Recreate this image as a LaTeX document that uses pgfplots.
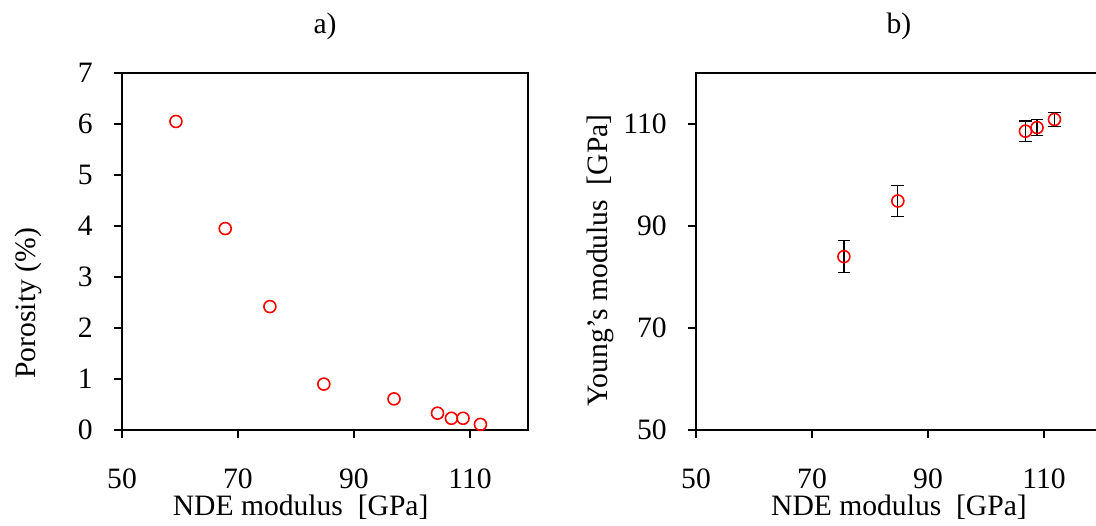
\documentclass[border=0pt]{standalone}
\usepackage{pgfplots}
\pgfplotsset{compat=1.18}
\usepackage{fontspec}
\setmainfont{Liberation Serif}

\pgfplotstableread{
x y
59.3 6.05
67.8 3.95
75.5 2.42
84.8 0.90
96.9 0.61
104.4 0.33
106.8 0.23
108.8 0.23
111.8 0.11
}\porosity

\pgfplotstableread{
x y e
75.5 84.0 3.1
84.8 94.9 3.1
106.8 108.6 2.0
108.8 109.3 1.6
111.8 110.9 1.4
}\young

\begin{document}
\begin{tikzpicture}[font=\fontsize{14.8}{17}\selectfont]
\pgfplotsset{
  myax/.style={
    scale only axis,
    width=203pt, height=178.5pt,
    xmin=50, xmax=120,
    xtick={50,70,90,110},
    axis line style={line width=1.4pt},
    every tick/.style={line width=1.4pt, black},
    major tick length=4pt,
    tick align=outside,
    xtick pos=left, ytick pos=left,
    /pgf/number format/assume math mode=true,
    xticklabel style={anchor=base, yshift=-25pt, inner sep=0pt},
    yticklabel style={anchor=east, xshift=-10.5pt, inner sep=0pt},
    clip=false,
  },
  mymark/.style={only marks, mark=o, mark size=3pt, red, mark options={line width=0.8pt}},
}
\begin{axis}[myax, at={(61pt,47.5pt)}, anchor=south west,
  ymin=0, ymax=7, ytick={0,1,2,3,4,5,6,7}]
  \addplot[mymark] table[x=x,y=y] {\porosity};
  \node[anchor=base] at ([yshift=20pt]rel axis cs:0.5,1) {a)};
  \node[anchor=base] at ([yshift=-42.5pt]rel axis cs:0.44,0) {NDE modulus\ \ [GPa]};
  \node[rotate=90, anchor=center] at ([xshift=-47pt]rel axis cs:0,0.355) {Porosity (\%)};
\end{axis}
\begin{axis}[myax, at={(348pt,47.5pt)}, anchor=south west,
  ymin=50, ymax=120, ytick={50,70,90,110}]
  \addplot[mymark,
    error bars/.cd, y dir=both, y explicit,
    error bar style={black, line width=0.6pt},
    error mark options={rotate=90, mark size=3.2pt, line width=0.6pt, black}]
    table[x=x,y=y,y error=e] {\young};
  \node[anchor=base] at ([yshift=20pt]rel axis cs:0.5,1) {b)};
  \node[anchor=base] at ([yshift=-42.5pt]rel axis cs:0.5,0) {NDE modulus\ \ [GPa]};
  \node[rotate=90, anchor=center] at ([xshift=-48pt]rel axis cs:0,0.475) {Young's modulus\ \ [GPa]};
\end{axis}
\pgfresetboundingbox
\path[use as bounding box] (0,0) rectangle (548pt,262.5pt);
\end{tikzpicture}
\end{document}
